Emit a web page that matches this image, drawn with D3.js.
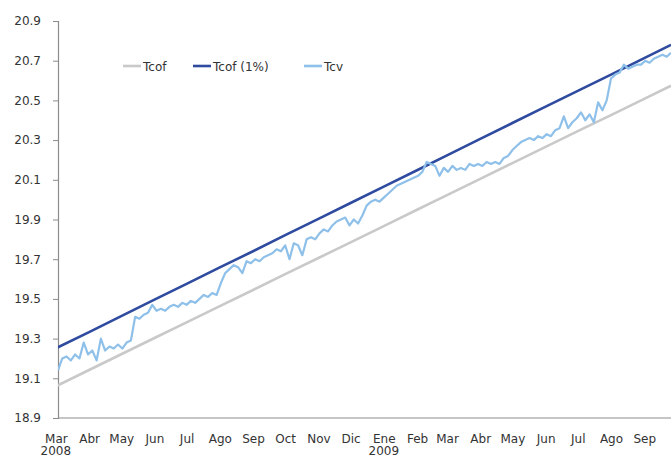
<!DOCTYPE html>
<html>
<head>
<meta charset="utf-8">
<script src="https://cdn.jsdelivr.net/npm/d3@7"></script>
<style>
  html, body { margin: 0; padding: 0; background: #fff; }
  svg { display: block; font-family: "DejaVu Sans", Verdana, sans-serif; }
</style>
</head>
<body>
<svg id="chart" width="671" height="457"></svg>
<script>
// Peso/dollar: theoretical forward (Tcof), Tcof + 1% band, and spot rate (Tcv)

// Month-start readings for the two reference curves
const refDates = ["2008-03-01","2008-04-01","2008-05-01","2008-06-01","2008-07-01","2008-08-01",
  "2008-09-01","2008-10-01","2008-11-01","2008-12-01","2009-01-01","2009-02-01","2009-03-01",
  "2009-04-01","2009-05-01","2009-06-01","2009-07-01","2009-08-01","2009-09-01","2009-09-26"];
const tcof = [19.060,19.142,19.221,19.303,19.382,19.464,19.545,19.625,19.706,19.785,19.867,
  19.949,20.023,20.105,20.184,20.266,20.345,20.426,20.508,20.574];
const tcof1 = [19.251,19.333,19.413,19.496,19.576,19.659,19.740,19.821,19.903,19.983,20.066,
  20.148,20.223,20.306,20.386,20.469,20.548,20.630,20.713,20.780];

// Spot series, one reading every 4 calendar days from the start date
const tcvStart = "2008-03-03";
const tcvStepDays = 4;
const tcv = [
  19.14,19.20,19.21,19.19,19.22,19.20,19.28,19.22,19.24,19.19,
  19.30,19.24,19.26,19.25,19.27,19.25,19.28,19.29,19.41,19.40,
  19.42,19.43,19.47,19.44,19.45,19.44,19.46,19.47,19.46,19.48,
  19.47,19.49,19.48,19.50,19.52,19.51,19.53,19.52,19.58,19.63,
  19.65,19.67,19.66,19.63,19.69,19.68,19.70,19.69,19.71,19.72,
  19.73,19.75,19.74,19.77,19.70,19.78,19.77,19.72,19.80,19.81,
  19.80,19.83,19.85,19.84,19.87,19.89,19.90,19.91,19.87,19.90,
  19.88,19.92,19.97,19.99,20.00,19.99,20.01,20.03,20.05,20.07,
  20.08,20.09,20.10,20.11,20.12,20.14,20.19,20.18,20.17,20.12,
  20.16,20.14,20.17,20.15,20.16,20.15,20.18,20.17,20.18,20.17,
  20.19,20.18,20.19,20.18,20.21,20.22,20.25,20.27,20.29,20.30,
  20.31,20.30,20.32,20.31,20.33,20.32,20.35,20.36,20.42,20.36,
  20.39,20.41,20.44,20.40,20.43,20.39,20.49,20.45,20.50,20.61,
  20.63,20.64,20.68,20.66,20.67,20.68,20.68,20.70,20.69,20.71,
  20.72,20.73,20.72,20.74
];

// Axis labels
const yTicks = [18.9,19.1,19.3,19.5,19.7,19.9,20.1,20.3,20.5,20.7,20.9];
const monthStarts = ["2008-03-01","2008-04-01","2008-05-01","2008-06-01","2008-07-01","2008-08-01",
  "2008-09-01","2008-10-01","2008-11-01","2008-12-01","2009-01-01","2009-02-01","2009-03-01",
  "2009-04-01","2009-05-01","2009-06-01","2009-07-01","2009-08-01","2009-09-01"];
const monthNames = ["Mar","Abr","May","Jun","Jul","Ago","Sep","Oct","Nov","Dic","Ene","Feb","Mar",
  "Abr","May","Jun","Jul","Ago","Sep"];
const yearLabels = [{date: "2008-03-01", text: "2008"}, {date: "2009-01-01", text: "2009"}];

const seriesNames = ["Tcof", "Tcof (1%)", "Tcv"];
const seriesColors = ["#c9c9c9", "#2f4b9f", "#8ec0e9"];

const parse = d3.utcParse("%Y-%m-%d");
const svg = d3.select("#chart");

const plot = {left: 58, right: 671, top: 21, bottom: 418};

const x = d3.scaleUtc()
  .domain([parse("2008-03-03"), parse("2009-09-26")])
  .range([plot.left, plot.right]);
const y = d3.scaleLinear()
  .domain([18.9, 20.9])
  .range([plot.bottom, plot.top]);

svg.append("defs").append("clipPath").attr("id", "plotClip")
  .append("rect")
  .attr("x", plot.left).attr("y", 0)
  .attr("width", plot.right - plot.left).attr("height", plot.bottom);

// Y axis
const yAxis = d3.axisLeft(y)
  .tickValues(yTicks)
  .tickFormat(d3.format(".1f"))
  .tickSize(5)
  .tickPadding(12);
const gy = svg.append("g")
  .attr("transform", `translate(${plot.left},0)`)
  .call(yAxis);
gy.select(".domain").attr("stroke", "#8c8c8c").attr("stroke-width", 1.2);
gy.selectAll(".tick line").attr("stroke", "#8c8c8c");
gy.selectAll(".tick text").attr("fill", "#333").style("font-size", "12px")
  .style("font-family", "'DejaVu Sans', Verdana, sans-serif");

// X axis: baseline only, month names under it
const xAxis = d3.axisBottom(x)
  .tickValues(monthStarts.map(parse))
  .tickFormat((d, i) => monthNames[i])
  .tickSize(0)
  .tickPadding(16);
const gx = svg.append("g")
  .attr("transform", `translate(0,${plot.bottom})`)
  .call(xAxis);
gx.select(".domain").attr("stroke", "#8c8c8c").attr("stroke-width", 1.2)
  .attr("d", `M${plot.left},0H${plot.right}`);
gx.selectAll(".tick text").attr("fill", "#333").style("font-size", "12px")
  .style("font-family", "'DejaVu Sans', Verdana, sans-serif");

svg.append("g").selectAll("text")
  .data(yearLabels)
  .join("text")
  .attr("x", d => x(parse(d.date)))
  .attr("y", 455)
  .attr("text-anchor", "middle")
  .attr("fill", "#333")
  .style("font-size", "12px")
  .text(d => d.text);

// Lines
const refPoints = vals => refDates.map((d, i) => ({date: parse(d), value: vals[i]}));
const t0 = parse(tcvStart);
const tcvPoints = tcv.map((v, i) => ({date: d3.utcDay.offset(t0, i * tcvStepDays), value: v}));

const line = d3.line()
  .x(d => x(d.date))
  .y(d => y(d.value));

const lines = svg.append("g").attr("clip-path", "url(#plotClip)");
const series = [
  {name: seriesNames[0], color: seriesColors[0], pts: refPoints(tcof), w: 2.6},
  {name: seriesNames[1], color: seriesColors[1], pts: refPoints(tcof1), w: 2.6},
  {name: seriesNames[2], color: seriesColors[2], pts: tcvPoints, w: 2.2}
];
lines.selectAll("path")
  .data(series)
  .join("path")
  .attr("fill", "none")
  .attr("stroke", d => d.color)
  .attr("stroke-width", d => d.w)
  .attr("stroke-linejoin", "round")
  .attr("d", d => line(d.pts));

// Legend
const legendX = [123, 193, 304];
const legend = svg.append("g").selectAll("g")
  .data(series)
  .join("g")
  .attr("transform", (d, i) => `translate(${legendX[i]},66)`);
legend.append("line")
  .attr("x1", 0).attr("x2", 18)
  .attr("stroke", d => d.color)
  .attr("stroke-width", 2.6);
legend.append("text")
  .attr("x", 20).attr("y", 4.5)
  .attr("fill", "#333")
  .style("font-size", "12px")
  .text(d => d.name);
</script>
</body>
</html>
